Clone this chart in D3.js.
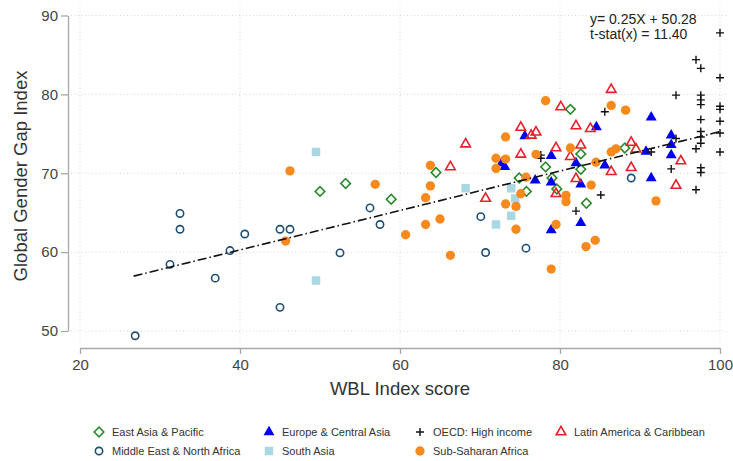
<!DOCTYPE html>
<html lang="en">
  <head>
    <meta charset="utf-8">
    <title>WBL Index vs Global Gender Gap Index</title>
    <script src="https://d3js.org/d3.v7.min.js"></script>
    <style>
      body { margin: 0; background: #fff; }
      svg text { font-family: "Liberation Sans", Arial, sans-serif; }
    </style>
  </head>
  <body>
    <div id="chart"></div>
    <script>
      // data: [WBL score, GGGI]
      const eastAsiaPacific = [[50,67.7],[53.2,68.7],[58.9,66.7],[64.5,70.1],[81.3,78.1],[82.6,72.45],[82.6,70.5],
        [78.2,70.8],[79,69.4],[74.9,69.4],[75.8,67.7],[79.6,68.0],[88.1,73.2],[83.3,66.2]]
      const europeCentralAsia = [[75.6,74.7],[78.9,72.2],[73.1,70.8],[72.7,71.3],[76.9,69.1],[78.9,68.85],[82,71.3],
        [82.6,68.6],[84.55,75.85],[91.4,77.1],[93.9,74.8],[93.9,73.6],[93.9,72.3],[90.75,72.75],[85.6,71.0],
        [91.4,69.4],[78.9,62.8],[82.6,63.7]]
      const oecdHighIncome = [[100,87.8],[97,84.4],[97.6,83.3],[100,82.1],[94.5,79.9],[97.6,79.9],[97.6,79.3],
        [97.6,78.7],[100,78.5],[100,78.1],[97.6,76.8],[100,76.6],[97.6,75.3],[100,75.1],[97.6,74.6],[97.6,73.8],
        [97,73.1],[100,72.7],[94.5,74.4],[93.9,70.55],[97.6,70.7],[97.6,70.1],[97,67.9],[91.4,72.7],[85.6,77.8],
        [77.6,72.3],[77.6,71.9],[85.1,67.25],[82,65.2]]
      const latinAmerica = [[68.2,73.7],[66.3,70.8],[70.7,66.8],[80.1,78.4],[75.1,75.8],[77,75.2],[76.4,74.8],
        [82,76.0],[83.8,75.65],[75.1,72.4],[79.5,73.2],[82.6,73.55],[81.3,72.1],[82,69.3],[86.4,80.6],[88.9,73.9],
        [89.5,73.05],[95.1,71.55],[86.4,70.2],[88.9,70.7],[94.5,68.45],[79.5,67.4]]
      const middleEastNorthAfrica = [[26.9,49.4],[31.25,58.45],[32.5,64.9],[32.5,62.9],[36.9,56.7],[38.75,60.2],
        [40.6,62.3],[45,62.9],[46.25,62.9],[45,53.0],[52.5,59.9],[56.25,65.6],[57.5,63.5],[70.1,64.5],
        [70.7,59.95],[75.75,60.5],[88.9,69.4]]
      const southAsia = [[49.5,72.7],[49.5,56.4],[68.2,68.1],[73.9,68.1],[74.4,66.8],[73.9,64.6],[72,63.5]]
      const subSaharanAfrica = [[46.25,70.3],[45.7,61.4],[56.9,68.6],[60.7,62.2],[63.2,63.5],[65,64.2],[66.3,59.6],
        [63.2,66.9],[63.8,68.4],[63.8,71.0],[78.2,79.2],[73.2,74.6],[72,71.9],[73.2,71.8],[72,70.6],[77,72.4],
        [81.3,73.2],[75.75,69.5],[83.9,68.5],[86.4,78.6],[88.2,78.0],[87,73.1],[86.4,72.7],[84.5,71.4],[75.1,67.4],
        [80.75,67.2],[80.75,66.4],[73.2,66.1],[74.5,65.8],[74.5,62.9],[79.5,63.5],[83.25,60.7],[84.4,61.5],
        [78.9,57.85],[92,66.5]]

      const fitSlope = 0.25, fitIntercept = 50.28, fitRange = [26.7, 100]
      const xTicks = [20, 40, 60, 80, 100]
      const yTicks = [50, 60, 70, 80, 90]

      const largura = 733, altura = 461

      const svg = d3.select('#chart').append('svg')
        .attr('width', largura)
        .attr('height', altura)

      const x = d3.scaleLinear().domain([20, 100]).range([80, 720])
      const y = d3.scaleLinear().domain([50, 90]).range([331, 15.5])

      // grid
      const grade = svg.append('g')
        .attr('stroke', '#d6d6d6')
        .attr('stroke-dasharray', '1,2.5')
      grade.selectAll('.gh').data(yTicks).join('line')
        .attr('x1', 71).attr('x2', 729)
        .attr('y1', d => y(d)).attr('y2', d => y(d))
      grade.selectAll('.gv').data(xTicks).join('line')
        .attr('y1', 4).attr('y2', 344)
        .attr('x1', d => x(d)).attr('x2', d => x(d))

      // axes
      const eixoY = svg.append('g')
        .attr('transform', 'translate(68,0)')
        .call(d3.axisLeft(y).tickValues(yTicks).tickSize(7).tickSizeOuter(0).tickPadding(3))
      const eixoX = svg.append('g')
        .attr('transform', 'translate(0,348)')
        .call(d3.axisBottom(x).tickValues(xTicks).tickSize(6).tickSizeOuter(0).tickPadding(5))
      for (const e of [eixoX, eixoY]) {
        e.select('.domain').attr('stroke', '#a8a8a8').attr('stroke-width', 1.3)
        e.selectAll('.tick line').attr('stroke', '#a8a8a8').attr('stroke-width', 1.3)
        e.selectAll('.tick text').attr('font-size', 15).attr('fill', '#444')
          .attr('font-family', '"Liberation Sans", Arial, sans-serif')
      }

      svg.append('text')
        .attr('transform', 'translate(27,176) rotate(-90)')
        .attr('text-anchor', 'middle')
        .attr('font-size', 18.5).attr('fill', '#333')
        .text('Global Gender Gap Index')
      svg.append('text')
        .attr('x', 400).attr('y', 395)
        .attr('text-anchor', 'middle')
        .attr('font-size', 18.5).attr('fill', '#333')
        .text('WBL Index score')

      // marker styles
      const simbolo = (tipo, area) => d3.symbol().type(tipo).size(area)()
      const estilos = [
        { nome: 'East Asia & Pacific', dados: eastAsiaPacific, d: simbolo(d3.symbolSquare, 46), rot: 45,
          fill: 'none', stroke: '#2a8a2a', sw: 1.6 },
        { nome: 'Europe & Central Asia', dados: europeCentralAsia, d: simbolo(d3.symbolTriangle, 52), rot: 0,
          fill: '#0000f0', stroke: 'none', sw: 0 },
        { nome: 'OECD: High income', dados: oecdHighIncome, d: 'M-4,0H4M0,-4V4', rot: 0,
          fill: 'none', stroke: '#111', sw: 1.4 },
        { nome: 'Latin America & Caribbean', dados: latinAmerica, d: simbolo(d3.symbolTriangle, 40), rot: 0,
          fill: 'none', stroke: '#e8202c', sw: 1.6 },
        { nome: 'Middle East & North Africa', dados: middleEastNorthAfrica, d: simbolo(d3.symbolCircle, 42), rot: 0,
          fill: 'none', stroke: '#1f4e74', sw: 1.6 },
        { nome: 'South Asia', dados: southAsia, d: simbolo(d3.symbolSquare, 72), rot: 0,
          fill: '#a9d7e2', stroke: 'none', sw: 0 },
        { nome: 'Sub-Saharan Africa', dados: subSaharanAfrica, d: simbolo(d3.symbolCircle, 68), rot: 0,
          fill: '#f8891d', stroke: 'none', sw: 0 }
      ]

      const pontos = svg.append('g')
      estilos.forEach(s => {
        pontos.append('g').selectAll('path').data(s.dados).join('path')
          .attr('d', s.d)
          .attr('transform', d => `translate(${x(d[0])},${y(d[1])}) rotate(${s.rot})`)
          .attr('fill', s.fill)
          .attr('stroke', s.stroke)
          .attr('stroke-width', s.sw)
      })

      // fitted line
      const linha = d3.line().x(d => x(d)).y(d => y(fitSlope * d + fitIntercept))
      svg.append('path')
        .attr('d', linha(fitRange))
        .attr('fill', 'none')
        .attr('stroke', '#111')
        .attr('stroke-width', 1.6)
        .attr('stroke-dasharray', '9,3,1.5,3')

      const nota = svg.append('text')
        .attr('font-size', 14).attr('fill', '#222')
      nota.append('tspan').attr('x', 590).attr('y', 24)
        .text(`y= ${fitSlope.toFixed(2)}X + ${fitIntercept.toFixed(2)}`)
      nota.append('tspan').attr('x', 590).attr('y', 38.5)
        .text('t-stat(x) = 11.40')

      // legend
      const legendaPos = [
        [99, 432], [269, 432], [420, 432], [561, 432],
        [99, 451], [269, 451], [420, 451]
      ]
      const legenda = svg.append('g')
      estilos.forEach((s, i) => {
        const [lx, ly] = legendaPos[i]
        legenda.append('path')
          .attr('d', s.d)
          .attr('transform', `translate(${lx},${ly}) rotate(${s.rot})`)
          .attr('fill', s.fill)
          .attr('stroke', s.stroke)
          .attr('stroke-width', s.sw)
        legenda.append('text')
          .attr('x', lx + 13).attr('y', ly + 4)
          .attr('font-size', 11).attr('fill', '#333')
          .text(s.nome)
      })
    </script>
  </body>
</html>
